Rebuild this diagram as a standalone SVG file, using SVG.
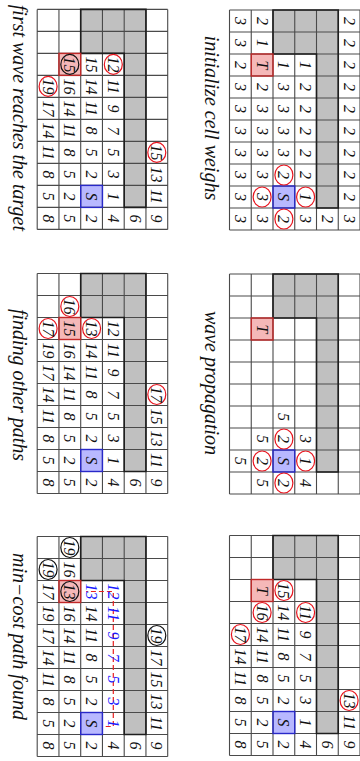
<svg xmlns="http://www.w3.org/2000/svg" xmlns:xlink="http://www.w3.org/1999/xlink" width="360" height="761" viewBox="0 0 360 761">
<style>
.g{fill:#c0c0c0}
.ln{fill:none;stroke:#4a4a4a;stroke-width:1.1}
.ob{fill:none;stroke:#1e1e1e;stroke-width:1.6}
text{font-family:"Liberation Serif","Times New Roman",serif;font-style:italic}
.n{font-size:16px;text-anchor:middle;fill:#111}
.b{fill:#1a1aff}
.rc{fill:none;stroke:#e8141e;stroke-width:1.2}
.kc{fill:none;stroke:#111;stroke-width:1.2}
.cap{font-size:20px;text-anchor:middle;fill:#111}
.rp{fill:none;stroke:#e82020;stroke-width:1.2;stroke-dasharray:5 3}
</style>
<defs>
<g id="board">
<rect class="g" x="0" y="21.75" width="198" height="21.75"/>
<rect class="g" x="0" y="43.5" width="44" height="43.5"/>
<rect fill="#b8b8ff" x="176" y="65.25" width="22" height="21.75"/>
<rect fill="#f5b8b8" x="44" y="87" width="22" height="21.75"/>
<path class="ln" d="M0 0V130.5M22 0V130.5M44 0V130.5M66 0V130.5M88 0V130.5M110 0V130.5M132 0V130.5M154 0V130.5M176 0V130.5M198 0V130.5M220 0V130.5M0 0H220M0 21.75H220M0 43.5H220M0 65.25H220M0 87H220M0 108.75H220M0 130.5H220"/>
<path class="ob" d="M0 21.75H198V43.5H44V87H0Z"/>
<rect fill="none" stroke="#2828c8" stroke-width="1.4" x="176" y="65.25" width="22" height="21.75"/>
<rect fill="none" stroke="#c02828" stroke-width="1.4" x="44" y="87" width="22" height="21.75"/>
</g>
</defs>
<g transform="translate(360,0) rotate(90)">

<g id="panel-init" transform="translate(10,0)">
<use xlink:href="#board"/>
<ellipse class="rc" cx="187" cy="54.4" rx="10" ry="9"/>
<ellipse class="rc" cx="165" cy="76.1" rx="10" ry="9"/>
<ellipse class="rc" cx="209" cy="76.1" rx="10" ry="9"/>
<ellipse class="rc" cx="187" cy="97.9" rx="10" ry="9"/>
<text class="n" x="11" y="16.4">2</text><text class="n" x="33" y="16.4">2</text><text class="n" x="55" y="16.4">2</text><text class="n" x="77" y="16.4">2</text><text class="n" x="99" y="16.4">2</text><text class="n" x="121" y="16.4">2</text><text class="n" x="143" y="16.4">2</text><text class="n" x="165" y="16.4">2</text><text class="n" x="187" y="16.4">2</text><text class="n" x="209" y="16.4">3</text>
<text class="n" x="209" y="38.1">2</text>
<text class="n" x="55" y="59.9">1</text><text class="n" x="77" y="59.9">2</text><text class="n" x="99" y="59.9">2</text><text class="n" x="121" y="59.9">2</text><text class="n" x="143" y="59.9">2</text><text class="n" x="165" y="59.9">2</text><text class="n" x="187" y="59.9">1</text><text class="n" x="209" y="59.9">3</text>
<text class="n" x="55" y="81.6">1</text><text class="n" x="77" y="81.6">3</text><text class="n" x="99" y="81.6">3</text><text class="n" x="121" y="81.6">3</text><text class="n" x="143" y="81.6">3</text><text class="n" x="165" y="81.6">2</text><text class="n" x="187" y="81.6">S</text><text class="n" x="209" y="81.6">2</text>
<text class="n" x="11" y="103.4">2</text><text class="n" x="33" y="103.4">1</text><text class="n" x="55" y="103.4">T</text><text class="n" x="77" y="103.4">2</text><text class="n" x="99" y="103.4">3</text><text class="n" x="121" y="103.4">3</text><text class="n" x="143" y="103.4">3</text><text class="n" x="165" y="103.4">3</text><text class="n" x="187" y="103.4">3</text><text class="n" x="209" y="103.4">3</text>
<text class="n" x="11" y="125.1">3</text><text class="n" x="33" y="125.1">3</text><text class="n" x="55" y="125.1">2</text><text class="n" x="77" y="125.1">3</text><text class="n" x="99" y="125.1">3</text><text class="n" x="121" y="125.1">3</text><text class="n" x="143" y="125.1">3</text><text class="n" x="165" y="125.1">3</text><text class="n" x="187" y="125.1">3</text><text class="n" x="209" y="125.1">3</text>
<text class="cap" x="108" y="155">initialize cell weighs</text>
</g>

<g id="panel-wave" transform="translate(274,0)">
<use xlink:href="#board"/>
<ellipse class="rc" cx="187" cy="54.4" rx="10" ry="9"/>
<ellipse class="rc" cx="165" cy="76.1" rx="10" ry="9"/>
<ellipse class="rc" cx="209" cy="76.1" rx="10" ry="9"/>
<ellipse class="rc" cx="187" cy="97.9" rx="10" ry="9"/>
<text class="n" x="165" y="59.9">3</text><text class="n" x="187" y="59.9">1</text><text class="n" x="209" y="59.9">4</text>
<text class="n" x="143" y="81.6">5</text><text class="n" x="165" y="81.6">2</text><text class="n" x="187" y="81.6">S</text><text class="n" x="209" y="81.6">2</text>
<text class="n" x="55" y="103.4">T</text><text class="n" x="165" y="103.4">5</text><text class="n" x="187" y="103.4">2</text><text class="n" x="209" y="103.4">5</text>
<text class="n" x="187" y="125.1">5</text>
<text class="cap" x="109" y="155">wave propagation</text>
</g>

<g id="panel-third" transform="translate(535.5,0)">
<use xlink:href="#board"/>
<ellipse class="rc" cx="165" cy="10.9" rx="10" ry="9"/>
<ellipse class="rc" cx="77" cy="54.4" rx="10" ry="9"/>
<ellipse class="rc" cx="55" cy="76.1" rx="10" ry="9"/>
<ellipse class="rc" cx="77" cy="97.9" rx="10" ry="9"/>
<ellipse class="rc" cx="99" cy="119.6" rx="10" ry="9"/>
<text class="n" x="165" y="16.4">13</text><text class="n" x="187" y="16.4">11</text><text class="n" x="209" y="16.4">9</text>
<text class="n" x="209" y="38.1">6</text>
<text class="n" x="77" y="59.9">11</text><text class="n" x="99" y="59.9">9</text><text class="n" x="121" y="59.9">7</text><text class="n" x="143" y="59.9">5</text><text class="n" x="165" y="59.9">3</text><text class="n" x="187" y="59.9">1</text><text class="n" x="209" y="59.9">4</text>
<text class="n" x="55" y="81.6">15</text><text class="n" x="77" y="81.6">14</text><text class="n" x="99" y="81.6">11</text><text class="n" x="121" y="81.6">8</text><text class="n" x="143" y="81.6">5</text><text class="n" x="165" y="81.6">2</text><text class="n" x="187" y="81.6">S</text><text class="n" x="209" y="81.6">2</text>
<text class="n" x="55" y="103.4">T</text><text class="n" x="77" y="103.4">16</text><text class="n" x="99" y="103.4">14</text><text class="n" x="121" y="103.4">11</text><text class="n" x="143" y="103.4">8</text><text class="n" x="165" y="103.4">5</text><text class="n" x="187" y="103.4">2</text><text class="n" x="209" y="103.4">5</text>
<text class="n" x="99" y="125.1">17</text><text class="n" x="121" y="125.1">14</text><text class="n" x="143" y="125.1">11</text><text class="n" x="165" y="125.1">8</text><text class="n" x="187" y="125.1">5</text><text class="n" x="209" y="125.1">8</text>
</g>

<g id="panel-first" transform="translate(9.4,192.3)">
<use xlink:href="#board"/>
<ellipse class="rc" cx="143" cy="10.9" rx="10" ry="9"/>
<ellipse class="rc" cx="55" cy="54.4" rx="10" ry="9"/>
<ellipse class="rc" cx="77" cy="119.6" rx="10" ry="9"/>
<ellipse class="kc" cx="55" cy="97.9" rx="10" ry="9"/>
<text class="n" x="143" y="16.4">15</text><text class="n" x="165" y="16.4">13</text><text class="n" x="187" y="16.4">11</text><text class="n" x="209" y="16.4">9</text>
<text class="n" x="209" y="38.1">6</text>
<text class="n" x="55" y="59.9">12</text><text class="n" x="77" y="59.9">11</text><text class="n" x="99" y="59.9">9</text><text class="n" x="121" y="59.9">7</text><text class="n" x="143" y="59.9">5</text><text class="n" x="165" y="59.9">3</text><text class="n" x="187" y="59.9">1</text><text class="n" x="209" y="59.9">4</text>
<text class="n" x="55" y="81.6">15</text><text class="n" x="77" y="81.6">14</text><text class="n" x="99" y="81.6">11</text><text class="n" x="121" y="81.6">8</text><text class="n" x="143" y="81.6">5</text><text class="n" x="165" y="81.6">2</text><text class="n" x="187" y="81.6">S</text><text class="n" x="209" y="81.6">2</text>
<text class="n" x="55" y="103.4">15</text><text class="n" x="77" y="103.4">16</text><text class="n" x="99" y="103.4">14</text><text class="n" x="121" y="103.4">11</text><text class="n" x="143" y="103.4">8</text><text class="n" x="165" y="103.4">5</text><text class="n" x="187" y="103.4">2</text><text class="n" x="209" y="103.4">5</text>
<text class="n" x="77" y="125.1">19</text><text class="n" x="99" y="125.1">17</text><text class="n" x="121" y="125.1">14</text><text class="n" x="143" y="125.1">11</text><text class="n" x="165" y="125.1">8</text><text class="n" x="187" y="125.1">5</text><text class="n" x="209" y="125.1">8</text>
<text class="cap" x="108.5" y="155">first wave reaches the target</text>
</g>

<g id="panel-other" transform="translate(273.5,192.3)">
<use xlink:href="#board"/>
<ellipse class="rc" cx="121" cy="10.9" rx="10" ry="9"/>
<ellipse class="rc" cx="55" cy="76.1" rx="10" ry="9"/>
<ellipse class="rc" cx="33" cy="97.9" rx="10" ry="9"/>
<ellipse class="rc" cx="55" cy="119.6" rx="10" ry="9"/>
<text class="n" x="121" y="16.4">17</text><text class="n" x="143" y="16.4">15</text><text class="n" x="165" y="16.4">13</text><text class="n" x="187" y="16.4">11</text><text class="n" x="209" y="16.4">9</text>
<text class="n" x="209" y="38.1">6</text>
<text class="n" x="55" y="59.9">12</text><text class="n" x="77" y="59.9">11</text><text class="n" x="99" y="59.9">9</text><text class="n" x="121" y="59.9">7</text><text class="n" x="143" y="59.9">5</text><text class="n" x="165" y="59.9">3</text><text class="n" x="187" y="59.9">1</text><text class="n" x="209" y="59.9">4</text>
<text class="n" x="55" y="81.6">13</text><text class="n" x="77" y="81.6">14</text><text class="n" x="99" y="81.6">11</text><text class="n" x="121" y="81.6">8</text><text class="n" x="143" y="81.6">5</text><text class="n" x="165" y="81.6">2</text><text class="n" x="187" y="81.6">S</text><text class="n" x="209" y="81.6">2</text>
<text class="n" x="33" y="103.4">16</text><text class="n" x="55" y="103.4">15</text><text class="n" x="77" y="103.4">16</text><text class="n" x="99" y="103.4">14</text><text class="n" x="121" y="103.4">11</text><text class="n" x="143" y="103.4">8</text><text class="n" x="165" y="103.4">5</text><text class="n" x="187" y="103.4">2</text><text class="n" x="209" y="103.4">5</text>
<text class="n" x="55" y="125.1">17</text><text class="n" x="77" y="125.1">19</text><text class="n" x="99" y="125.1">17</text><text class="n" x="121" y="125.1">14</text><text class="n" x="143" y="125.1">11</text><text class="n" x="165" y="125.1">8</text><text class="n" x="187" y="125.1">5</text><text class="n" x="209" y="125.1">8</text>
<text class="cap" x="111.5" y="155">finding other paths</text>
</g>

<g id="panel-min" transform="translate(536.5,192.3)">
<use xlink:href="#board"/>
<ellipse class="kc" cx="99" cy="10.9" rx="10" ry="9"/>
<ellipse class="kc" cx="11" cy="97.9" rx="10" ry="9"/>
<ellipse class="kc" cx="55" cy="97.9" rx="10" ry="9"/>
<ellipse class="kc" cx="33" cy="119.6" rx="10" ry="9"/>
<text class="n" x="99" y="16.4">19</text><text class="n" x="121" y="16.4">17</text><text class="n" x="143" y="16.4">15</text><text class="n" x="165" y="16.4">13</text><text class="n" x="187" y="16.4">11</text><text class="n" x="209" y="16.4">9</text>
<text class="n" x="209" y="38.1">6</text>
<text class="n" x="209" y="59.9">4</text>
<text class="n" x="77" y="81.6">14</text><text class="n" x="99" y="81.6">11</text><text class="n" x="121" y="81.6">8</text><text class="n" x="143" y="81.6">5</text><text class="n" x="165" y="81.6">2</text><text class="n" x="187" y="81.6">S</text><text class="n" x="209" y="81.6">2</text>
<text class="n" x="11" y="103.4">19</text><text class="n" x="33" y="103.4">16</text><text class="n" x="55" y="103.4">13</text><text class="n" x="77" y="103.4">16</text><text class="n" x="99" y="103.4">14</text><text class="n" x="121" y="103.4">11</text><text class="n" x="143" y="103.4">8</text><text class="n" x="165" y="103.4">5</text><text class="n" x="187" y="103.4">2</text><text class="n" x="209" y="103.4">5</text>
<text class="n" x="33" y="125.1">19</text><text class="n" x="55" y="125.1">17</text><text class="n" x="77" y="125.1">19</text><text class="n" x="99" y="125.1">17</text><text class="n" x="121" y="125.1">14</text><text class="n" x="143" y="125.1">11</text><text class="n" x="165" y="125.1">8</text><text class="n" x="187" y="125.1">5</text><text class="n" x="209" y="125.1">8</text>
<text class="cap" x="100" y="155">min−cost path found</text>
</g>

<g id="connectors">
<path class="rp" d="M726.5 254.3V246.7H591.5V274"/>
</g>

<g id="path-weights">
<text class="n b" x="591.5" y="252.2">12</text><text class="n b" x="613.5" y="252.2">11</text><text class="n b" x="635.5" y="252.2">9</text><text class="n b" x="657.5" y="252.2">7</text><text class="n b" x="679.5" y="252.2">5</text><text class="n b" x="701.5" y="252.2">3</text><text class="n b" x="723.5" y="252.2">1</text>
<text class="n b" x="591.5" y="273.9">13</text>
</g>

</g>
</svg>
